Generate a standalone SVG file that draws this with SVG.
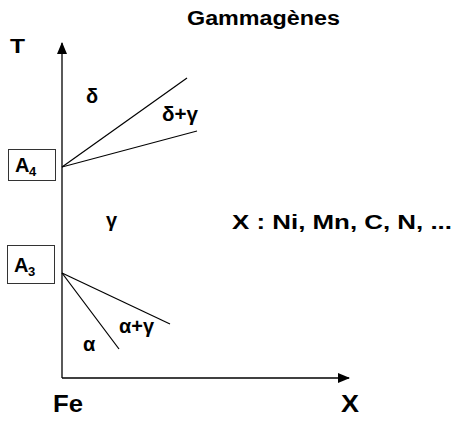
<svg xmlns="http://www.w3.org/2000/svg" width="457" height="421" viewBox="0 0 457 421">
<style>
text{font-family:"Liberation Sans",Arial,sans-serif;font-weight:bold;fill:#000}
.ax{stroke:#000;stroke-width:1.3;fill:none}
.ln{stroke:#000;stroke-width:1.2;fill:none}
.box{fill:#fff;stroke:#333;stroke-width:1}
.gr{font-size:20px}
.tag{font-size:20px}
.sub{font-size:13px}
</style>
<defs>
<marker id="ah" markerWidth="12" markerHeight="10" refX="11" refY="5" orient="auto" markerUnits="userSpaceOnUse">
<path d="M0,0 L12,5 L0,10 Z" fill="#000"/>
</marker>
</defs>
<rect width="457" height="421" fill="#fff"/>
<g id="connectors">
<line class="ax" x1="62" y1="378" x2="62" y2="43" marker-end="url(#ah)"/>
<line class="ax" x1="62" y1="378" x2="349" y2="378" marker-end="url(#ah)"/>
<line class="ln" x1="62" y1="167" x2="187" y2="78"/>
<line class="ln" x1="62" y1="167" x2="197" y2="131"/>
<line class="ln" x1="62" y1="273" x2="170" y2="324"/>
<line class="ln" x1="62" y1="273" x2="119" y2="349"/>
</g>
<g id="title"><text x="187" y="25" font-size="20" textLength="153" lengthAdjust="spacingAndGlyphs">Gammagènes</text></g>
<g id="axis-T"><text x="10" y="53" font-size="21" textLength="15" lengthAdjust="spacingAndGlyphs">T</text></g>
<g id="axis-Fe"><text x="53" y="412" font-size="23" textLength="30" lengthAdjust="spacingAndGlyphs">Fe</text></g>
<g id="axis-X"><text x="341" y="412" font-size="23" textLength="18" lengthAdjust="spacingAndGlyphs">X</text></g>
<g id="elements"><text x="232" y="229" font-size="21" textLength="220" lengthAdjust="spacingAndGlyphs">X : Ni, Mn, C, N, ...</text></g>
<g id="A4">
<rect class="box" x="8.5" y="149.5" width="47" height="31"/>
<text class="tag" x="15" y="172">A</text><text class="sub" x="29" y="176">4</text>
</g>
<g id="A3">
<rect class="box" x="7.5" y="245.5" width="47" height="38"/>
<text class="tag" x="14" y="272">A</text><text class="sub" x="28" y="276">3</text>
</g>
<g id="delta"><text class="gr" x="86" y="103">δ</text></g>
<g id="delta-gamma"><text class="gr" x="162" y="121" textLength="36" lengthAdjust="spacingAndGlyphs">δ+γ</text></g>
<g id="gamma"><text class="gr" x="106" y="227">γ</text></g>
<g id="alpha-gamma"><text class="gr" x="119" y="333" textLength="35" lengthAdjust="spacingAndGlyphs">α+γ</text></g>
<g id="alpha"><text class="gr" x="83" y="351">α</text></g>
</svg>
